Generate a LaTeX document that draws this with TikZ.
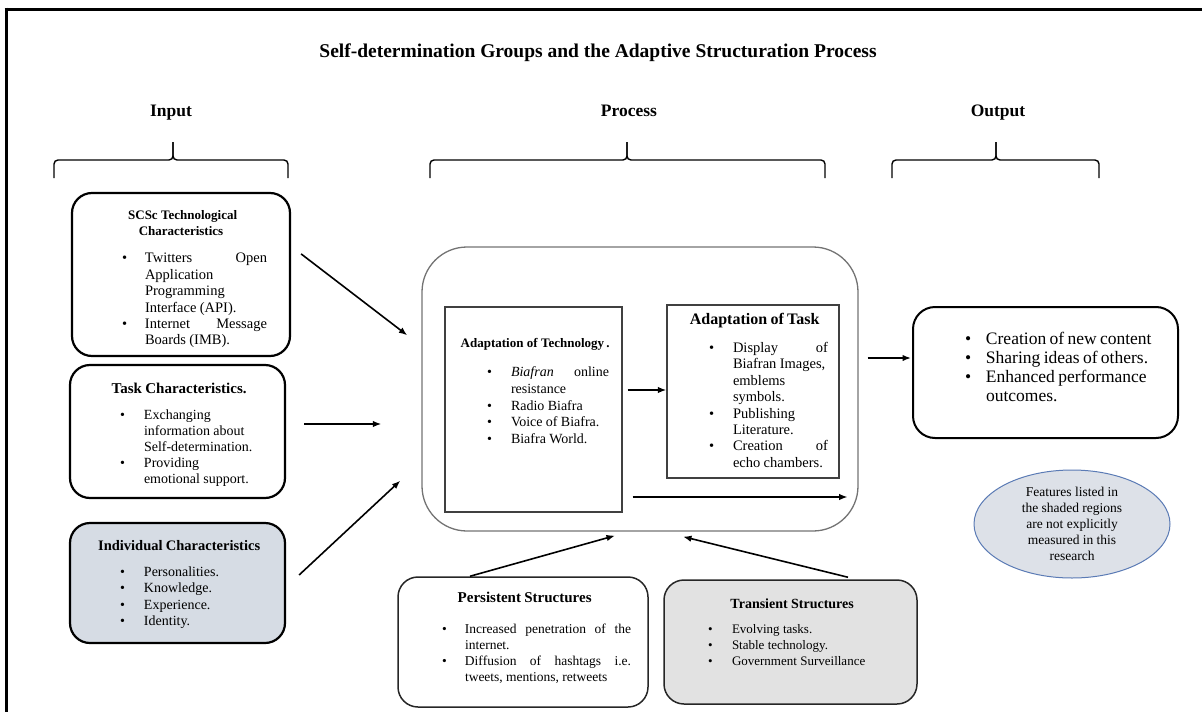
\documentclass[tikz,border=0pt]{standalone}
\usepackage{fontspec}
\setmainfont{Liberation Serif}
\usetikzlibrary{arrows.meta,shapes.geometric}

\definecolor{indivfill}{HTML}{D6DCE4}
\definecolor{transfill}{HTML}{E2E2E2}
\definecolor{notefill}{HTML}{DDE1E8}
\definecolor{noteline}{HTML}{5B7BB5}

\newcommand\fsz[2]{\fontsize{#1}{#2}\selectfont}

\tikzset{
  inbox/.style={draw, line width=2.2pt, rounded corners=20pt, inner sep=0pt},
  outbox/.style={draw, line width=2pt, rounded corners=22pt, inner sep=0pt},
  structbox/.style={draw=black!85, line width=1.5pt, rounded corners=20pt, inner sep=0pt},
  procbox/.style={draw=black!55, line width=1.3pt, rounded corners=45pt, inner sep=0pt},
  adaptbox/.style={draw=black!75, line width=1.3pt, inner sep=0pt},
  notebox/.style={ellipse, draw=noteline, line width=1pt, fill=notefill, align=center, inner sep=0pt},
  boxtext/.style={anchor=north, align=center, inner sep=0pt},
  heading/.style={anchor=base, font=\fsz{17.5}{20}\bfseries},
  arr/.style={-{Latex[length=8.5pt,width=6.5pt]}, line width=1.6pt},
  bracket/.style={line width=1.4pt, rounded corners=4pt},
}

\begin{document}
\begin{tikzpicture}[x=1pt, y=-1pt]
\useasboundingbox (0,0) rectangle (1202,712);

% frame
\draw[line width=3pt] (4.5,9) -- (1202,9);
\draw[line width=3pt] (6,7.5) -- (6,712);

% title and column headings
\node[heading, font=\fsz{19.5}{22}\bfseries] (title) at (598,57) {Self-determination Groups and the Adaptive Structuration Process};
\node[heading] (hin) at (171,116) {Input};
\node[heading] (hproc) at (629,116) {Process};
\node[heading] (hout) at (998,116) {Output};

% braces under the headings
\draw[bracket] (54,178) |- (173,160) -- (173,142);
\draw[bracket] (288,178) |- (173,160) -- (173,142);
\draw[bracket] (430,178) |- (627,160) -- (627,142);
\draw[bracket] (825,178) |- (627,160) -- (627,142);
\draw[bracket] (892,178) |- (996,160) -- (996,142);
\draw[bracket] (1099,178) |- (996,160) -- (996,142);

% input boxes
\node[inbox, minimum width=218pt, minimum height=163pt] (scsc) at (181,274.5) {};
\node[boxtext, text width=180pt] (scsctext) at (181,210.3) {%
  \bfseries\fsz{13}{16.4} SCSc Technological\\Characteristics\\[15pt]
  \fsz{14.5}{16.4}\mdseries\hspace*{31pt}\begin{tabular}[t]{@{}p{23pt}@{}p{122pt}@{}}
  \textbullet & Twitters\hfill Open\\
   & Application\\
   & Programming\\
   & Interface (API).\\
  \textbullet & Internet\hfill Message\\
   & Boards (IMB).
  \end{tabular}\hfill\null};

\node[inbox, minimum width=215pt, minimum height=133pt] (task) at (177.5,431.5) {};
\node[boxtext, text width=180pt] (tasktext) at (177.5,382.6) {%
  \bfseries\fsz{15}{16} Task Characteristics.\\[14.6pt]
  \fsz{14}{16}\mdseries\hspace*{32.5pt}\begin{tabular}[t]{@{}p{24pt}@{}p{120pt}@{}}
  \textbullet & Exchanging\\
   & information about\\
   & Self-determination.\\
  \textbullet & Providing\\
   & emotional support.
  \end{tabular}\hfill\null};

\node[inbox, fill=indivfill, minimum width=215pt, minimum height=120pt] (indiv) at (177.5,583) {};
\node[boxtext, text width=180pt] (indivtext) at (177.5,539.8) {%
  \bfseries\fsz{14.5}{16.5} Individual Characteristics\\[14.3pt]
  \fsz{14}{16.5}\mdseries\hspace*{32.5pt}\begin{tabular}[t]{@{}p{24pt}@{}p{120pt}@{}}
  \textbullet & Personalities.\\
  \textbullet & Knowledge.\\
  \textbullet & Experience.\\
  \textbullet & Identity.
  \end{tabular}\hfill\null};

% process
\node[procbox, minimum width=436pt, minimum height=284pt] (proc) at (640,389) {};

\node[adaptbox, minimum width=177pt, minimum height=205pt] (tech) at (533.5,409.5) {};
\node[boxtext, text width=160pt] (techtext) at (533.5,338.3) {%
  \bfseries\fsz{13}{16.7} Adaptation of Technology\,.\\[13.6pt]
  \fsz{14}{16.7}\mdseries\hspace*{33.5pt}\begin{tabular}[t]{@{}p{24pt}@{}p{98pt}@{}}
  \textbullet & \textit{Biafran}\hfill online\\
   & resistance\\
  \textbullet & Radio Biafra\\
  \textbullet & Voice of Biafra.\\
  \textbullet & Biafra World.
  \end{tabular}\hfill\null};

\node[adaptbox, minimum width=172pt, minimum height=173pt] (taskad) at (753,391.5) {};
\node[boxtext, text width=150pt] (taskadtext) at (753,313.2) {%
  \bfseries\fsz{16}{16.4} Adaptation of Task\\[12pt]
  \fsz{14.5}{16.4}\mdseries\hspace*{31pt}\begin{tabular}[t]{@{}p{24pt}@{}p{95pt}@{}}
  \textbullet & Display\hfill of\\
   & Biafran Images,\\
   & emblems\\
   & symbols.\\
  \textbullet & Publishing\\
   & Literature.\\
  \textbullet & Creation\hfill of\\
   & echo chambers.
  \end{tabular}\hfill\null};

% output
\node[outbox, minimum width=265pt, minimum height=131pt] (out) at (1045.5,372.5) {};
\node[boxtext, text width=225pt] (outtext) at (1045.5,330.5) {%
  \fsz{17.5}{19}\hspace*{32pt}\begin{tabular}[t]{@{}p{21pt}@{}p{170pt}@{}}
  \textbullet & Creation of new content\\
  \textbullet & Sharing ideas of others.\\
  \textbullet & Enhanced performance\\
   & outcomes.
  \end{tabular}\hfill\null};

\node[notebox, minimum width=196pt, minimum height=108pt, font=\fsz{13.5}{16}] (note) at (1072,524) {%
  Features listed in\\the shaded regions\\are not explicitly\\measured in this\\research};

% structures
\node[structbox, minimum width=250pt, minimum height=130pt] (pers) at (523,642) {};
\node[boxtext, text width=210pt] (perstext) at (523,591.6) {%
  \bfseries\fsz{15}{16} Persistent Structures\\[19.5pt]
  \fsz{13.5}{16}\mdseries\hspace*{24pt}\begin{tabular}[t]{@{}p{23pt}@{}p{166pt}@{}}
  \textbullet & Increased\hfill penetration\hfill of\hfill the\\
   & internet.\\
  \textbullet & Diffusion\hfill of\hfill hashtags\hfill i.e.\\
   & tweets, mentions, retweets
  \end{tabular}\hfill\null};

\node[structbox, fill=transfill, minimum width=253pt, minimum height=124pt] (trans) at (790.5,642) {};
\node[boxtext, text width=210pt] (transtext) at (790.5,599) {%
  \bfseries\fsz{14}{16} Transient Structures\\[12.7pt]
  \fsz{13}{16}\mdseries\hspace*{22.5pt}\begin{tabular}[t]{@{}p{24pt}@{}p{160pt}@{}}
  \textbullet & Evolving tasks.\\
  \textbullet & Stable technology.\\
  \textbullet & Government Surveillance
  \end{tabular}\hfill\null};

% connectors
\draw[arr] ([shift={(10,62)}]scsc.north east) -- ([shift={(-14,89)}]proc.north west);
\draw[arr] ([shift={(18,-7.5)}]task.east) -- ([shift={(-40,35)}]proc.west);
\draw[arr] ([shift={(13,-8)}]indiv.east) -- ([shift={(-21,-51)}]proc.south west);
\draw[arr] ([shift={(5,-19.5)}]tech.east) -- ([shift={(0,-1.5)}]taskad.west);
\draw[arr, line width=2.6pt] ([shift={(10,87.5)}]tech.east) -- ([shift={(-11,108)}]proc.east);
\draw[arr] ([shift={(9,-31)}]proc.east) -- ([shift={(-1,-14.5)}]out.west);
\draw[arr] ([shift={(-53,0)}]pers.north) -- ([shift={(-25,4)}]proc.south);
\draw[arr] ([shift={(57.5,-2)}]trans.north) -- ([shift={(43,5)}]proc.south);
\end{tikzpicture}
\end{document}
